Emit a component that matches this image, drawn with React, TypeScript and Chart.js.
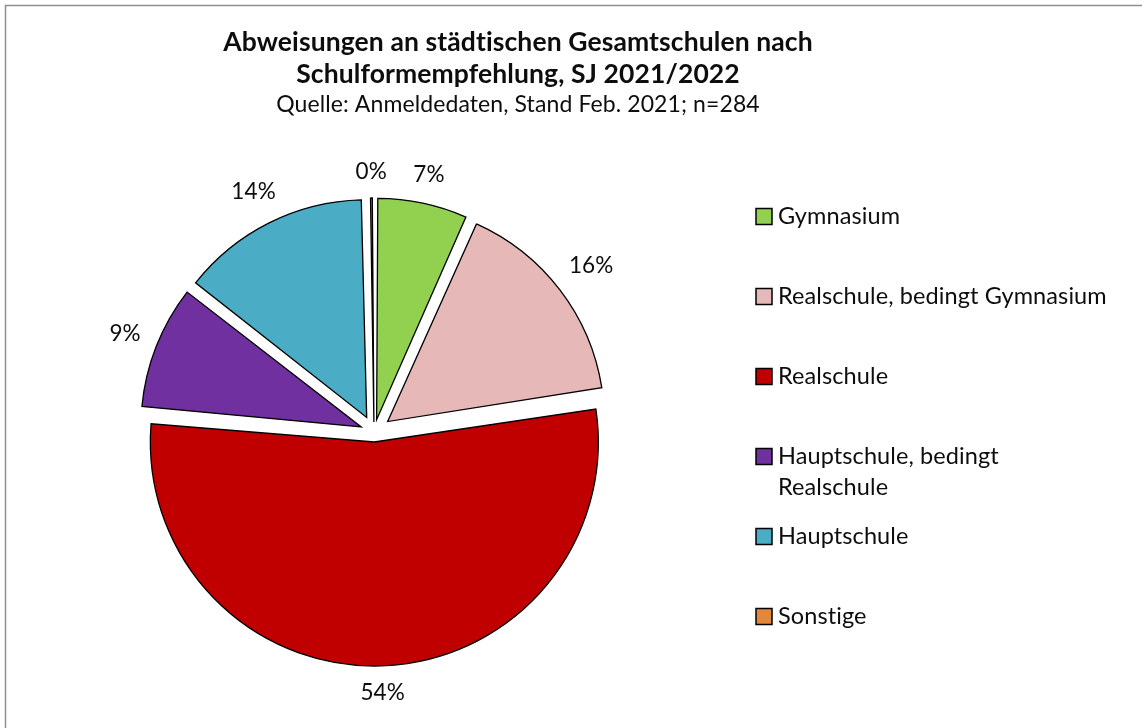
import React, { useEffect, useRef } from "react";
import { Chart, registerables } from "chart.js";

Chart.register(...registerables);

const categories = [
  "Gymnasium",
  "Realschule, bedingt Gymnasium",
  "Realschule",
  "Hauptschule, bedingt Realschule",
  "Hauptschule",
  "Sonstige",
];
const counts = [19, 45, 153, 26, 40, 1];
const colors = ["#92D050", "#E6B9B8", "#C00000", "#7030A0", "#4BACC6", "#E2873C"];
const titleLines = ["Abweisungen an städtischen Gesamtschulen nach", "Schulformempfehlung, SJ 2021/2022"];
const subtitleText = "Quelle: Anmeldedaten, Stand Feb. 2021; n=284";

const W = 1142;
const H = 728;
const EXPLODE = 20;
const FONT = "Lato";
const TEXT_COLOR = "#0d0d0d";

function explodeOffset(ctx: any) {
  const data = ctx.dataset.data as number[];
  const total = data.reduce((a, b) => a + b, 0);
  const circ = (data[ctx.dataIndex] / total) * Math.PI * 2;
  const fix = 1 - Math.sin(Math.min(Math.PI, circ));
  return (EXPLODE * 4) / (1 + fix);
}

const decorPlugin = {
  id: "decor",
  beforeDraw(chart: any) {
    const c = chart.ctx;
    c.save();
    c.strokeStyle = "#8f8f8f";
    c.lineWidth = 1.5;
    c.beginPath();
    c.moveTo(5.5, H);
    c.lineTo(5.5, 5.5);
    c.lineTo(W, 5.5);
    c.stroke();
    c.restore();
  },
  afterDatasetsDraw(chart: any) {
    const c = chart.ctx;
    const meta = chart.getDatasetMeta(0);
    const data = chart.data.datasets[0].data as number[];
    const total = data.reduce((a: number, b: number) => a + b, 0);
    c.save();
    try {
      (c as any).letterSpacing = "0.1px";
    } catch (e) {}
    c.fillStyle = TEXT_COLOR;
    c.textAlign = "center";
    c.textBaseline = "middle";
    c.font = `22.5px ${FONT}`;
    meta.data.forEach((arc: any, i: number) => {
      const p = arc.getProps(["x", "y", "startAngle", "endAngle", "outerRadius", "circumference"], true);
      const mid = (p.startAngle + p.endAngle) / 2;
      const off = arc.options.offset || 0;
      const fix = 1 - Math.sin(Math.min(Math.PI, p.circumference));
      const t = (off / 4) * (1 + fix);
      const dx = Math.cos(mid);
      const dy = Math.sin(mid);
      const txt = Math.round((data[i] / total) * 100) + "%";
      const w = c.measureText(txt).width;
      const h = 22;
      const dist = p.outerRadius + t + 15 + Math.abs(dx) * (w / 2) + Math.abs(dy) * (h / 2);
      c.fillText(txt, p.x + dx * dist, p.y + dy * dist);
    });

    // title + subtitle
    c.font = `bold 26.5px ${FONT}`;
    c.fillText(titleLines[0], 518, 42);
    c.fillText(titleLines[1], 518, 74);
    c.font = `23px ${FONT}`;
    c.fillText(subtitleText, 518, 105);

    // legend
    const lx = 756;
    const ly = 216;
    const step = 80;
    c.textAlign = "left";
    c.font = `23.5px ${FONT}`;
    categories.forEach((lab, i) => {
      const y = ly + i * step;
      c.fillStyle = colors[i];
      c.fillRect(lx, y - 7.5, 16, 16);
      c.strokeStyle = "#000";
      c.lineWidth = 1.5;
      c.strokeRect(lx, y - 7.5, 16, 16);
      c.fillStyle = TEXT_COLOR;
      const words = lab.split(" ");
      const lines: string[] = [];
      let cur = "";
      words.forEach((wd) => {
        const test = cur ? cur + " " + wd : wd;
        if (cur && c.measureText(test).width > 332) {
          lines.push(cur);
          cur = wd;
        } else cur = test;
      });
      lines.push(cur);
      lines.forEach((ln, k) => c.fillText(ln, lx + 22, y + k * 31));
    });
    c.restore();
  },
};

export default function App() {
  const ref = useRef<HTMLCanvasElement | null>(null);
  useEffect(() => {
    if (!ref.current) return;
    const chart = new Chart(ref.current, {
      type: "pie",
      data: {
        labels: categories,
        datasets: [
          {
            data: counts,
            backgroundColor: colors,
            borderColor: "#000",
            borderWidth: 1.3,
            borderJoinStyle: "miter",
            offset: explodeOffset,
            radius: 214,
          } as any,
        ],
      },
      options: {
        responsive: false,
        animation: false,
        radius: 214,
        layout: { padding: { left: 134, right: W - 614, top: 192, bottom: H - 672 } },
        plugins: {
          legend: { display: false },
          title: { display: false },
          tooltip: { enabled: false },
        },
      } as any,
      plugins: [decorPlugin],
    });
    return () => chart.destroy();
  }, []);
  return (
    <div style={{ position: "absolute", left: 0, top: 0, width: W, height: H, background: "#fff" }}>
      <canvas ref={ref} width={W} height={H} style={{ width: W, height: H, display: "block" }} />
    </div>
  );
}
